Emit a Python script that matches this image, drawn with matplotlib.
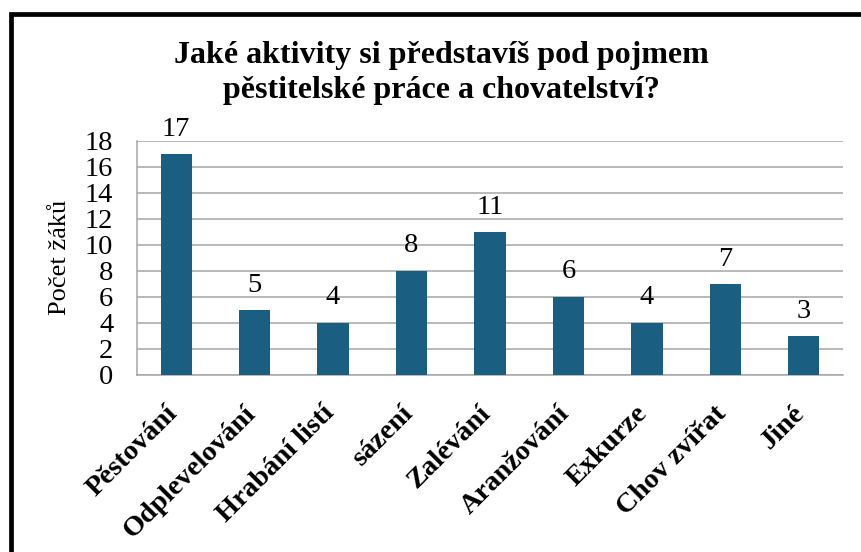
import matplotlib
matplotlib.use("Agg")
import matplotlib.pyplot as plt
from matplotlib.patches import Rectangle
import matplotlib.transforms as mtransforms

categories = ["Pěstování", "Odplevelování", "Hrabání listí", "sázení", "Zalévání",
              "Aranžování", "Exkurze", "Chov zvířat", "Jiné"]
values = [17, 5, 4, 8, 11, 6, 4, 7, 3]
yticks = [0, 2, 4, 6, 8, 10, 12, 14, 16, 18]
title_lines = ["Jaké aktivity si představíš pod pojmem", "pěstitelské práce a chovatelství?"]
ylabel = "Počet žáků"

plt.rcParams['font.family'] = ['Liberation Serif', 'DejaVu Serif']

W, H = 861, 552
fig = plt.figure(figsize=(W / 100, H / 100), dpi=100)
fig.patch.set_facecolor('white')

# axes placement in pixels
left, right, top, bottom = 137, 843, 141, 375
ax = fig.add_axes([left / W, 1 - bottom / H, (right - left) / W, (bottom - top) / H])

x = list(range(len(categories)))
ax.bar(x, values, width=0.40, color='#1a5f82', zorder=3)
ax.set_xlim(-0.5, len(categories) - 0.5)
ax.set_ylim(0, 18)
ax.set_yticks(yticks)
ax.set_yticklabels([str(t) for t in yticks], fontsize=20.5)
ax.tick_params(axis='y', length=0, pad=17)
ax.tick_params(axis='x', length=0)
ax.grid(axis='y', color='#a6a6a6', linewidth=1.1, zorder=0)
for s in ['top', 'right']:
    ax.spines[s].set_visible(False)
for s in ['left', 'bottom']:
    ax.spines[s].set_color('#a6a6a6')
    ax.spines[s].set_linewidth(1.1)

ax.set_xticks(x)
ax.set_xticklabels(categories, rotation=45, ha='right', va='top',
                   fontsize=20.5, fontweight='bold')
offset = mtransforms.ScaledTranslation(6 / 100, -21 / 100, fig.dpi_scale_trans)
for lab in ax.get_xticklabels():
    lab.set_transform(lab.get_transform() + offset)

for xi, v in zip(x, values):
    ax.annotate(str(v), (xi, v), xytext=(0, 9), textcoords='offset points',
                ha='center', va='bottom', fontsize=20.5)

fig.text(60 / W, 1 - 257 / H, ylabel, rotation=90, ha='center', va='center', fontsize=19)
for i, line in enumerate(title_lines):
    fig.text(441 / W, 1 - (63 + 35 * i) / H, line, ha='center', va='baseline',
             fontsize=23, fontweight='bold')

# outer frame extending past the right and bottom edges
fig.patches.append(Rectangle((10.5 / W, -0.2), 1.2, 1.2 - 14 / H,
                             transform=fig.transFigure, fill=False,
                             edgecolor='black', linewidth=3.4, zorder=10))

fig.savefig("out.png", dpi=100)
